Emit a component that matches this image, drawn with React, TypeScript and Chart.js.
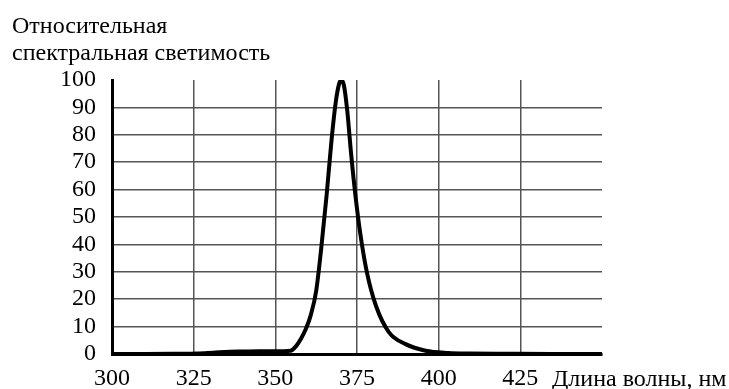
import React, { useEffect, useRef } from "react";
import { Chart, registerables } from "chart.js";

Chart.register(...registerables);

const titleLines = ["Относительная", "спектральная светимость"];
const xAxisLabel = "Длина волны, нм";
const wavelengths = [
  300, 310, 320, 326, 331, 336, 340, 345, 350, 354.6, 356.3, 357.8, 359.3, 360.8,
  362.5, 364, 365.7, 367.2, 368.5, 369.5, 370.2, 371, 372, 373.2, 374.6, 376,
  378, 380.8, 384.8, 389.9, 396, 403, 410, 420, 435, 450,
];
const luminosity = [
  0, 0, 0.1, 0.2, 0.5, 0.8, 0.9, 1.0, 1.0, 1.2, 2.8, 5.5, 9, 14, 23, 38, 58, 78,
  92, 98.5, 100, 98, 89, 73, 57, 44, 30, 17.6, 7.9, 3.6, 1.2, 0.4, 0.2, 0.1, 0, 0,
];
const xTicks = [300, 325, 350, 375, 400, 425, 450];
const yTicks = [0, 10, 20, 30, 40, 50, 60, 70, 80, 90, 100];

const FONT = '"Liberation Serif", "Times New Roman", serif';
const FONT_SIZE = 24;

export default function App() {
  const ref = useRef<HTMLCanvasElement | null>(null);

  useEffect(() => {
    if (!ref.current) return;
    const textPlugin = {
      id: "customText",
      afterDraw(chart: any) {
        const ctx = chart.ctx;
        ctx.save();
        ctx.fillStyle = "#000";
        ctx.font = `${FONT_SIZE}px ${FONT}`;
        ctx.textAlign = "left";
        ctx.textBaseline = "alphabetic";
        ctx.fillText(titleLines[0], 12, 33);
        ctx.fillText(titleLines[1], 12, 60);
        ctx.fillText(xAxisLabel, 552, 386);
        ctx.restore();
      },
    };
    const chart = new Chart(ref.current, {
      type: "line",
      data: {
        datasets: [
          {
            data: wavelengths.map((x, i) => ({ x, y: luminosity[i] })),
            borderColor: "#000",
            borderWidth: 4,
            pointRadius: 0,
            cubicInterpolationMode: "monotone",
            fill: false,
          },
        ],
      },
      options: {
        responsive: false,
        animation: false,
        events: [],
        layout: { padding: { left: 0, top: 80, right: 127, bottom: 0 } },
        plugins: { legend: { display: false }, tooltip: { enabled: false }, title: { display: false } },
        scales: {
          x: {
            type: "linear",
            min: xTicks[0],
            max: xTicks[xTicks.length - 1],
            afterBuildTicks: (s: any) => {
              s.ticks = xTicks.map((v) => ({ value: v }));
            },
            afterFit: (s: any) => {
              s.height = 35;
            },
            ticks: {
              color: "#000",
              font: { family: FONT, size: FONT_SIZE },
              padding: 10,
              maxRotation: 0,
              autoSkip: false,
              callback: (v: any) => (v === 450 ? "" : String(v)),
            },
            grid: {
              drawTicks: false,
              lineWidth: 1.5,
              color: (c: any) =>
                c.tick && (c.tick.value === 300 || c.tick.value === 450) ? "rgba(0,0,0,0)" : "#555",
            },
            border: { color: "#000", width: 3 },
          },
          y: {
            min: 0,
            max: 100,
            afterBuildTicks: (s: any) => {
              s.ticks = yTicks.map((v) => ({ value: v }));
            },
            afterFit: (s: any) => {
              s.width = 112;
            },
            ticks: {
              color: "#000",
              font: { family: FONT, size: FONT_SIZE },
              padding: 16,
              autoSkip: false,
            },
            grid: {
              drawTicks: false,
              lineWidth: 1.5,
              color: (c: any) =>
                c.tick && (c.tick.value === 0 || c.tick.value === 100) ? "rgba(0,0,0,0)" : "#555",
            },
            border: { color: "#000", width: 3 },
          },
        },
      },
      plugins: [textPlugin],
    } as any);
    return () => chart.destroy();
  }, []);

  return (
    <div style={{ position: "fixed", left: 0, top: 0, width: 729, height: 389, background: "#fff" }}>
      <canvas ref={ref} width={729} height={389} style={{ display: "block", width: 729, height: 389 }} />
    </div>
  );
}
